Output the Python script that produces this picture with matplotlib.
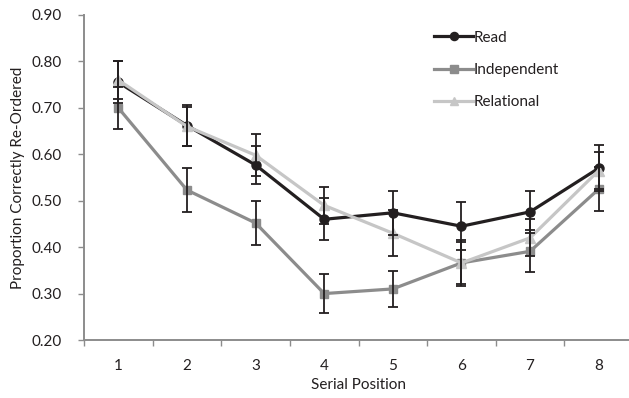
import matplotlib.pyplot as plt
import numpy as np

positions = [1, 2, 3, 4, 5, 6, 7, 8]

read = [0.755, 0.662, 0.577, 0.460, 0.474, 0.445, 0.476, 0.570]
read_err = [0.045, 0.045, 0.040, 0.045, 0.047, 0.052, 0.045, 0.050]

independent = [0.700, 0.523, 0.452, 0.300, 0.310, 0.366, 0.391, 0.525]
independent_err = [0.045, 0.048, 0.048, 0.042, 0.038, 0.050, 0.045, 0.047]

relational = [0.760, 0.660, 0.598, 0.490, 0.430, 0.366, 0.420, 0.565]
relational_err = [0.040, 0.042, 0.045, 0.040, 0.050, 0.045, 0.040, 0.040]

plt.rcParams['font.family'] = ['Lato', 'DejaVu Sans']

fig = plt.figure(figsize=(6.29, 3.98), dpi=100)
ax = fig.add_axes([84 / 629, 1 - 340 / 398, 549 / 629, 325 / 398])

series = [
    ('Independent', independent, independent_err, '#8c8c8c', 's', 6),
    ('Read', read, read_err, '#231f20', 'o', 6.5),
    ('Relational', relational, relational_err, '#c6c6c6', '^', 6.5),
]

handles = {}
for name, vals, err, col, mk, ms in series:
    ax.errorbar(positions, vals, yerr=err, fmt='none', ecolor='#231f20',
                elinewidth=1.3, capsize=3.5, capthick=1.3, zorder=4)
    h, = ax.plot(positions, vals, color=col, marker=mk, markersize=ms,
                 linewidth=2.3, zorder=3, label=name)
    handles[name] = h

ax.set_xlim(0.5, 8.5)
ax.set_ylim(0.2, 0.9)
ax.set_yticks(np.arange(0.2, 0.91, 0.1))
ax.set_yticklabels(['%.2f' % v for v in np.arange(0.2, 0.91, 0.1)])
ax.set_xticks(positions)
ax.set_xticks(np.arange(0.5, 8.6, 1), minor=True)
ax.tick_params(axis='x', which='major', length=0, pad=14)
ax.tick_params(axis='x', which='minor', length=4, color='#8c8c8c', width=1)
ax.tick_params(axis='y', length=4, color='#8c8c8c', width=1, pad=12)
ax.tick_params(labelsize=11, labelcolor='#231f20')

for s in ['top', 'right']:
    ax.spines[s].set_visible(False)
for s in ['left', 'bottom']:
    ax.spines[s].set_color('#8c8c8c')
    ax.spines[s].set_linewidth(1.4)

ax.set_xlabel('Serial Position', fontsize=11, color='#231f20', labelpad=3)
ax.set_ylabel('Proportion Correctly Re-Ordered', fontsize=11, color='#231f20', labelpad=5)

leg = fig.legend([handles['Read'], handles['Independent'], handles['Relational']],
                 ['Read', 'Independent', 'Relational'],
                 loc='upper left', bbox_to_anchor=(420 / 629, 1 - 17 / 398),
                 frameon=False, fontsize=11, handlelength=2.6,
                 handletextpad=0.0, labelspacing=1.2, markerscale=0.9)
for t in leg.get_texts():
    t.set_color('#231f20')

fig.savefig('out.png', dpi=100)
